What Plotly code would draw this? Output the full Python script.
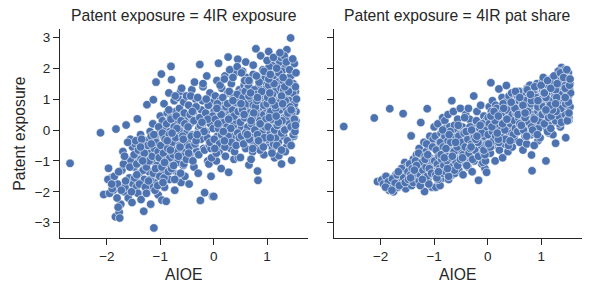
import plotly.graph_objects as go

# AIOE per occupation (shared by both panels)
aioe = [
    -2.69, -2.12, -2.06, -1.97, -1.92, -1.88, -1.84, -1.83, -1.80, -1.77,
    -1.76, -1.74, -1.72, -1.70, -1.68, -1.66, -1.64, -1.62, -1.60, -1.58,
    -1.56, -1.55, -1.53, -1.52, -1.51,
    -1.49, -1.47, -1.45, -1.43, -1.42, -1.40, -1.39, -1.37, -1.36, -1.34,
    -1.33, -1.31, -1.30, -1.28, -1.27, -1.25, -1.24, -1.22, -1.21, -1.19,
    -1.18, -1.16, -1.15, -1.13, -1.12, -1.11, -1.09, -1.08, -1.06, -1.05,
    -1.04, -1.02, -1.01, -1.00, -1.46, -1.38, -1.29, -1.20, -1.14, -1.07, -1.03,
    -0.99, -0.98, -0.97, -0.96, -0.95, -0.94, -0.93, -0.92, -0.91, -0.90,
    -0.89, -0.88, -0.87, -0.86, -0.85, -0.84, -0.83, -0.82, -0.81, -0.80,
    -0.79, -0.78, -0.77, -0.76, -0.75, -0.74, -0.73, -0.72, -0.71, -0.70,
    -0.69, -0.68, -0.67, -0.66, -0.65, -0.64, -0.63, -0.62, -0.61, -0.60,
    -0.59, -0.58, -0.57, -0.56, -0.55, -0.54, -0.53, -0.52, -0.51, -0.50,
    -0.49, -0.47, -0.46, -0.44, -0.43, -0.41, -0.40, -0.38, -0.37, -0.35,
    -0.34, -0.32, -0.31, -0.29, -0.28, -0.26, -0.25, -0.23, -0.22, -0.20,
    -0.19, -0.17, -0.16, -0.14, -0.13, -0.11, -0.10, -0.08, -0.07, -0.05,
    -0.04, -0.02, -0.01, -0.45, -0.36, -0.27, -0.18, -0.09, -0.03, -0.42,
    0.00, 0.01, 0.02, 0.03, 0.04, 0.05, 0.06, 0.07, 0.08, 0.09,
    0.10, 0.12, 0.13, 0.14, 0.15, 0.17, 0.18, 0.19, 0.20, 0.21,
    0.22, 0.24, 0.25, 0.26, 0.27, 0.28, 0.30, 0.31, 0.32, 0.33,
    0.34, 0.35, 0.36, 0.38, 0.39, 0.40, 0.41, 0.42, 0.44, 0.45,
    0.46, 0.47, 0.48, 0.49, 0.11, 0.23, 0.29, 0.37, 0.43, 0.16,
    0.50, 0.51, 0.52, 0.53, 0.54, 0.55, 0.56, 0.57, 0.58, 0.59,
    0.60, 0.61, 0.62, 0.63, 0.64, 0.65, 0.66, 0.67, 0.68, 0.69,
    0.70, 0.71, 0.72, 0.73, 0.74, 0.75, 0.76, 0.77, 0.78, 0.79,
    0.80, 0.81, 0.82, 0.83, 0.84, 0.85, 0.86, 0.87, 0.88, 0.89,
    0.90, 0.91, 0.92, 0.93, 0.94, 0.95, 0.96, 0.97, 0.98, 0.99,
    0.52, 0.57, 0.63, 0.68, 0.72, 0.77, 0.82, 0.87, 0.92, 0.97,
    1.00, 1.01, 1.02, 1.03, 1.04, 1.05, 1.06, 1.07, 1.08, 1.09,
    1.10, 1.11, 1.12, 1.13, 1.14, 1.15, 1.16, 1.17, 1.18, 1.19,
    1.20, 1.21, 1.22, 1.23, 1.24, 1.25, 1.26, 1.27, 1.28, 1.29,
    1.30, 1.31, 1.32, 1.33, 1.34, 1.35, 1.36, 1.37, 1.38, 1.39,
    1.40, 1.41, 1.42, 1.43, 1.44, 1.45, 1.46, 1.47, 1.48, 1.49,
    1.50, 1.51, 1.52, 1.53, 1.54,
    1.02, 1.06, 1.10, 1.14, 1.18, 1.22, 1.26, 1.30, 1.34, 1.38,
    1.42, 1.46, 1.50, 1.04, 1.12, 1.20, 1.28, 1.36, 1.44, 1.52,
    1.08, 1.16, 1.24, 1.32, 1.40,
    # second batch
    -1.98, -1.95, -1.90, -1.86, -1.81, -1.78, -1.73, -1.69, -1.65, -1.61,
    -1.57, -1.54, -1.91, -1.79, -1.67,
    -1.49, -1.48, -1.46, -1.44, -1.41, -1.39, -1.36, -1.35, -1.32, -1.30,
    -1.28, -1.26, -1.23, -1.21, -1.19, -1.17, -1.15, -1.13, -1.11, -1.10,
    -1.08, -1.06, -1.04, -1.03, -1.01, -1.44, -1.33, -1.26, -1.17, -1.09,
    -1.02, -1.37, -1.22, -1.12, -1.05,
    -0.99, -0.97, -0.96, -0.94, -0.93, -0.91, -0.90, -0.88, -0.86, -0.85,
    -0.83, -0.82, -0.80, -0.79, -0.77, -0.76, -0.74, -0.73, -0.71, -0.70,
    -0.68, -0.67, -0.65, -0.64, -0.62, -0.61, -0.59, -0.58, -0.56, -0.55,
    -0.53, -0.52, -0.51, -0.95, -0.87, -0.81, -0.75, -0.69, -0.63, -0.57,
    -0.92, -0.84, -0.78, -0.66, -0.54,
    -0.48, -0.46, -0.44, -0.42, -0.39, -0.37, -0.35, -0.33, -0.30, -0.28,
    -0.26, -0.24, -0.21, -0.19, -0.17, -0.15, -0.12, -0.10, -0.08, -0.06,
    -0.04, -0.02, -0.47, -0.40, -0.33, -0.25, -0.18, -0.11, -0.05, -0.43,
    -0.31, -0.22, -0.14, -0.07, -0.01,
    0.01, 0.03, 0.05, 0.07, 0.09, 0.11, 0.13, 0.15, 0.17, 0.19,
    0.21, 0.23, 0.25, 0.27, 0.29, 0.31, 0.33, 0.35, 0.37, 0.39,
    0.41, 0.43, 0.45, 0.47, 0.49, 0.02, 0.08, 0.14, 0.20, 0.26,
    0.32, 0.38, 0.44, 0.48, 0.06, 0.18, 0.28, 0.36, 0.42, 0.46,
    0.50, 0.52, 0.53, 0.55, 0.56, 0.58, 0.59, 0.61, 0.62, 0.64,
    0.65, 0.67, 0.68, 0.70, 0.71, 0.73, 0.74, 0.76, 0.77, 0.79,
    0.80, 0.82, 0.83, 0.85, 0.86, 0.88, 0.89, 0.91, 0.92, 0.94,
    0.95, 0.97, 0.98, 0.99, 0.54, 0.60, 0.66, 0.72, 0.78, 0.84,
    0.90, 0.96, 0.51, 0.57, 0.63, 0.69, 0.75, 0.81, 0.87, 0.93,
    0.99, 0.58, 0.70, 0.82, 0.94,
    1.00, 1.02, 1.03, 1.05, 1.06, 1.08, 1.09, 1.11, 1.12, 1.14,
    1.15, 1.17, 1.18, 1.20, 1.21, 1.23, 1.24, 1.26, 1.27, 1.29,
    1.30, 1.32, 1.33, 1.35, 1.36, 1.38, 1.39, 1.41, 1.42, 1.44,
    1.45, 1.47, 1.48, 1.50, 1.51, 1.53, 1.54, 1.01, 1.07, 1.13,
    1.19, 1.25, 1.31, 1.37, 1.43, 1.49, 1.55, 1.04, 1.10, 1.16,
    1.22, 1.28, 1.34, 1.40, 1.46, 1.52, 1.03, 1.15, 1.27, 1.39,
    1.51, 1.09, 1.21, 1.33, 1.45, 1.05, 1.17, 1.29, 1.41, 1.53,
    # third batch
    0.30, 0.36, 0.44, 0.52, 0.60, 0.66, 0.74, 0.80, 0.88, 0.94,
    1.00, 1.06, 1.12, 1.18, 1.24, 1.30, 1.36, 1.42, 1.48, 1.54,
    -0.20, -0.30, -0.60, -0.72, 0.12, 0.20, 1.09, 1.27, 1.45, 0.70,
]

# Panel 1: "4IR exposure"
exposure_4ir = [
    -1.08, -0.09, -2.09, -1.24, -1.55, -1.95, -2.81, 0.03, -1.75, -2.66,
    -2.85, -2.40, -1.30, -0.70, -2.00, -1.85, 0.16, -0.95, -2.20, -1.55,
    -0.30, -1.00, -2.35, -0.55, -1.75,
    -1.20, -0.45, -1.85, 0.36, -2.05, -0.90, -1.40, -0.15, -2.25, -1.05,
    -0.60, -2.63, -1.60, -0.35, -1.15, 0.82, -1.90, -0.75, -1.35, -0.05,
    -2.40, -1.00, -0.50, 0.98, -3.17, -1.70, -0.25, 1.55, -1.45, -0.80,
    -2.10, -0.10, -1.25, 0.45, -1.55, -0.70, -0.95, -1.80, 0.20, -0.55, -1.35,
    -0.95, 1.81, -2.27, 0.30, -1.40, -0.20, 0.85, -1.85, -0.60, 0.10,
    -2.31, -0.85, 0.55, -1.10, -0.30, 1.20, -1.60, -0.05, 0.40, 2.06,
    1.63, -0.70, -1.30, 0.15, -0.45, 0.95, -1.95, -0.15, 0.60, -1.00,
    0.25, -0.55, 1.05, -1.45, -0.25, 0.70, -0.80, 1.25, -1.70, 0.05,
    -0.35, 0.50, -1.15, 0.90, -0.65, -1.50, 0.30, -0.10, 1.10, -0.90,
    -0.40, 0.80, -1.75, 0.20, -0.90, 1.30, -0.15, 0.55, -1.20, -0.50,
    1.00, -0.70, 0.35, -1.40, 0.05, 2.12, -2.28, 0.65, -0.25, 1.40,
    -0.60, -2.03, 0.95, -0.05, 1.75, -1.00, 0.40, -0.35, 1.20, -1.50,
    0.15, -2.15, 0.70, -0.80, 1.55, -0.30, 0.25, -1.10, 0.90, 0.45,
    -2.15, 0.60, -0.40, 1.10, 0.20, -1.00, 1.60, -0.20, 0.45, 2.16,
    -0.70, 0.95, 0.05, -1.25, 1.35, -0.50, 0.30, 0.80, -0.10, 1.75,
    -0.85, 0.55, -0.30, 1.20, 2.36, -1.37, 0.15, 0.70, -0.60, 1.50,
    0.35, -0.20, 1.00, -0.95, 0.50, 1.85, 0.00, 0.85, -0.45, 2.29,
    -0.89, 0.25, 1.30, -0.15, 0.40, -0.05, 0.65, 1.15, 0.10, -0.35,
    -0.89, 1.20, 0.30, -0.40, 1.90, 0.65, -0.10, 1.45, 0.05, 0.90,
    -0.60, 1.70, 0.40, -0.25, 1.05, 0.75, -1.13, 1.55, 0.15, 0.50,
    -0.35, 1.30, 0.95, -0.70, 1.80, 0.20, 0.60, -0.15, 1.10, 2.63,
    0.35, -0.50, -1.33, -1.63, 1.40, 0.80, 0.00, 1.65, -0.30, 0.45,
    1.00, -0.05, 1.95, 0.70, -0.80, 0.25, 1.25, 0.55, -0.45, 1.50,
    0.10, 0.85, 1.35, -0.20, 0.60, 1.15, 0.30, -0.65, 0.90, 1.70,
    0.50, 1.95, -0.30, 2.54, 0.80, 1.30, -0.10, 0.20, 1.60, 0.95,
    -0.60, 2.10, 0.40, 1.15, -0.90, 0.65, 1.85, 0.05, 2.30, 0.30,
    1.45, -0.40, -0.83, 1.00, 2.20, 0.15, 1.70, -1.10, 0.55, 2.45,
    1.20, -0.20, 0.85, 2.00, 0.35, 1.55, -0.55, 2.60, 0.10, 1.35,
    0.70, 2.25, -0.35, 1.10, 2.98, 0.45, -0.98, 1.80, 0.25, 1.50,
    0.90, 2.15, 0.00, 1.25, 0.60,
    1.40, 0.30, 1.75, -0.15, 0.95, 0.40, 2.35, 1.05, -0.70, 1.60,
    0.20, 1.30, 0.75, 2.05, -0.45, 0.80, 1.90, 0.50, 1.15, 0.35,
    1.65, -0.25, 0.95, 2.40, 0.55,
    # second batch
    -1.60, -2.05, -1.90, -1.50, -2.20, -1.35, -1.95, -1.10, -1.65, -0.40,
    -1.20, -2.00, -1.75, -2.50, -0.85,
    -0.80, -1.55, -0.35, -1.10, -0.65, -1.75, -0.95, -0.30, -1.30, -0.75,
    -1.85, -1.20, -0.50, -1.00, -1.60, -0.20, -0.85, -1.40, -0.60, -1.95,
    -0.40, -1.15, -0.70, 0.10, -1.50, -1.45, -1.00, -2.05, -0.45, -1.25,
    -0.90, -0.55, -1.65, -0.15, -1.80,
    -0.50, -1.20, -0.10, -0.75, -1.55, -0.30, -1.00, 0.20, -0.60, -1.35,
    -0.15, -0.90, 0.35, -1.25, -0.40, -0.80, 0.10, -1.60, -0.25, 0.45,
    -0.70, -1.05, 0.00, -0.50, -1.40, 0.30, -0.85, -0.20, -1.10, 0.55,
    -0.45, 0.15, -0.95, -1.70, -0.35, -0.65, -1.15, 0.05, -0.55, -0.30,
    -1.05, 0.65, -0.10, -0.85, 0.20,
    0.10, -0.55, 0.50, -0.20, -1.00, 0.30, -0.45, 0.75, -0.10, -0.80,
    0.40, -0.30, 0.95, 0.00, -0.65, 0.55, -0.25, 0.80, -0.50, 0.20,
    -0.90, 0.45, -0.75, 0.60, -0.35, 0.15, -0.05, 0.35, -0.60, 1.10,
    -0.15, 0.25, 1.00, -0.40, 0.05,
    -0.30, 0.35, -0.75, 0.85, 0.05, -0.45, 0.60, -0.15, 1.05, 0.25,
    -0.55, 0.75, 0.10, -0.20, 1.25, 0.40, -0.40, 0.65, 0.15, -0.70,
    0.90, 0.30, -0.10, 0.55, 1.00, -0.60, 0.20, 0.50, -0.35, 0.85,
    0.05, 0.45, 1.15, -0.25, 0.70, -0.05, 0.35, 0.95, -0.50, 0.60,
    0.25, -0.20, 0.70, 1.05, -0.45, 0.40, 1.25, -0.05, 0.85, 0.10,
    1.45, -0.30, 0.55, 1.00, 0.20, -0.60, 0.80, 1.30, 0.00, 0.60,
    1.15, -0.15, 0.45, 1.55, 0.30, -0.40, 0.95, 0.15, 1.20, 0.50,
    -0.25, 0.90, 0.35, 1.35, 0.65, -0.10, 1.10, 0.40, 0.75, -0.35,
    1.25, 0.10, 0.85, 0.50, -0.15, 1.20, 0.55, 0.95, 0.20, -0.55,
    0.70, 1.60, 0.30, 1.05, 0.80,
    0.85, 0.10, 1.45, 0.55, -0.25, 1.10, 0.35, 1.70, 0.75, 0.00,
    1.25, 0.50, -0.50, 0.90, 1.55, 0.20, 0.65, 1.35, -0.10, 0.80,
    1.60, 0.40, 0.00, 1.15, 0.70, -0.35, 1.45, 0.25, 0.95, 1.75,
    0.10, 0.60, 1.20, -0.20, 0.85, 1.40, 0.30, 1.05, 0.60, 1.50,
    0.15, 0.90, 1.30, 0.45, 0.75, -0.15, 1.00, 0.40, 1.15, 0.70,
    1.85, 0.30, 0.95, 1.25, 0.50, -0.05, 1.65, 0.80, 1.10, 0.55,
    0.35, 0.95, 0.25, 1.40, 0.65, 1.20, 0.45, 0.85, 1.55, 0.15,
    # third batch
    1.95, 1.70, 2.05, 1.85, 2.20, 1.60, 2.10, 1.75, 2.40, 1.90,
    2.25, 1.80, 2.35, 2.00, 2.50, 1.70, 2.20, 1.95, 2.30, 1.85,
    1.50, 1.05, 1.35, 1.10, 1.45, 1.65, -0.75, -0.65, -0.50, -0.95,
]

# Panel 2: "4IR pat share"
pat_share = [
    0.11, 0.39, -1.67, -1.60, -1.72, -1.55, -1.95, 0.69, -1.80, -1.70,
    -2.00, -1.55, -1.45, -1.65, -1.85, -1.50, -1.75, -1.30, -1.62, 0.53,
    -1.40, -1.05, -1.90, -1.20, -1.60,
    -1.55, -1.20, -1.70, -0.19, -1.80, -1.35, -0.95, -1.10, -1.65, -1.45,
    -0.80, -1.50, -1.25, -0.60, -1.00, 0.24, -1.75, -1.30, -0.85, -0.40,
    -1.99, -1.15, -0.70, 0.69, -1.60, -1.40, -0.50, -0.20, -1.30, -0.95,
    -1.85, -0.30, -1.05, 0.10, -1.50, -1.10, -0.75, -1.60, -0.45, -0.90, -1.25,
    -1.30, -0.20, -1.85, -0.55, -1.50, -0.90, 0.20, -1.65, -1.05, -0.40,
    -1.80, -1.20, -0.10, -1.40, -0.75, 0.40, -1.55, -0.60, -0.25, 0.30,
    0.05, -1.00, -1.35, -0.50, -0.80, 0.50, -1.60, -0.70, 0.10, -1.15,
    -0.30, -0.95, 0.95, -1.45, -0.65, 0.60, -1.10, 0.15, -1.40, -0.35,
    -0.85, -0.05, -1.25, 0.35, -0.55, -1.30, -0.15, -0.60, 0.70, -0.95,
    -0.70, 0.10, -1.45, -0.35, -1.05, 0.50, -0.55, -0.10, -1.20, -0.80,
    0.35, -0.95, -0.25, -1.35, -0.45, 1.10, -1.00, 0.15, -0.60, 0.60,
    -0.85, -1.63, 0.25, -0.40, 0.80, -1.10, -0.15, -0.70, 0.45, -1.25,
    -0.30, -1.37, 0.05, -0.90, 0.70, -0.50, -0.20, -1.05, 0.30, -0.05,
    -0.60, 0.40, -0.20, 0.75, 0.05, -0.75, 1.53, -0.35, 0.20, 0.95,
    -0.50, 0.55, -0.10, -1.00, 0.80, -0.40, 0.10, 0.45, -0.25, 1.33,
    -0.65, 0.30, -0.15, 0.65, 1.05, -0.90, 0.00, 0.50, -0.45, 0.90,
    0.20, 1.44, 0.60, -0.70, 0.35, 1.10, -0.10, 0.70, -0.30, 1.20,
    -0.55, 0.15, 0.85, -0.05, 0.25, -0.20, 0.40, 0.75, 0.10, -0.30,
    -0.30, 0.90, 0.40, -0.10, 1.15, 0.55, 0.10, 1.05, 0.25, 0.70,
    -0.40, 1.25, 0.45, 0.00, 0.85, 0.60, -0.65, 1.10, 0.30, 0.50,
    -0.20, 1.00, 0.75, -0.45, 1.35, 0.35, 0.55, 0.05, 0.95, 1.45,
    0.40, -0.15, -0.81, -1.32, 1.20, 0.65, 0.15, 1.30, -0.05, 0.50,
    0.90, 0.20, 1.50, 0.70, -0.35, 0.30, 1.05, 0.60, -0.25, 1.25,
    0.35, 0.80, 1.10, 0.00, 0.65, 1.00, 0.45, -0.50, 0.85, 1.40,
    0.60, 1.45, 0.20, 1.60, 0.85, 1.10, 0.35, 0.50, 1.30, -1.00,
    0.05, 1.55, 0.70, 1.05, -0.10, 0.80, 1.40, 0.45, 1.65, 0.60,
    1.20, 0.25, -0.15, 0.95, 1.50, 0.40, 1.35, -0.43, 0.75, 1.70,
    1.15, 0.30, 0.90, 1.60, 0.55, 1.25, 0.10, 1.80, 2.02, 1.45,
    0.85, 1.75, 0.35, 1.10, 1.95, 0.65, -0.25, 1.55, 0.80, 1.40,
    1.00, 1.85, 0.32, 1.30, 1.50,
    1.20, 0.70, 1.40, 0.15, 0.95, 0.50, 1.65, 1.05, 0.20, 1.35,
    0.60, 1.25, 0.85, 1.70, -0.05, 0.90, 1.50, 0.75, 1.15, 0.40,
    1.30, 0.55, 1.00, 1.90, 1.60,
    # second batch
    -1.62, -1.75, -1.50, -1.68, -1.90, -1.58, -1.72, -1.45, -1.80, -1.25,
    -1.55, -1.70, -1.85, -1.95, -1.35,
    -1.35, -1.60, -1.10, -1.45, -1.25, -1.70, -1.50, -1.00, -1.40, -1.20,
    -1.65, -1.45, -1.05, -1.30, -1.55, -0.85, -1.20, -1.50, -1.00, -1.75,
    -0.90, -1.35, -1.10, -0.55, -1.45, -1.55, -1.15, -1.80, -0.95, -1.25,
    -1.00, -1.30, -1.60, -0.80, -1.40,
    -1.00, -1.45, -0.65, -1.10, -1.60, -0.85, -1.25, -0.40, -0.95, -1.40,
    -0.55, -1.15, -0.20, -1.35, -0.70, -1.00, -0.35, -1.50, -0.60, -0.05,
    -0.90, -1.20, -0.45, -0.75, -1.30, -0.25, -1.05, -0.50, -1.15, 0.15,
    -0.65, -0.30, -0.95, -1.55, -0.80, -0.90, -1.25, -0.40, -0.70, -0.55,
    -1.35, 0.00, -0.60, -0.85, -0.20,
    -0.40, -0.80, -0.10, -0.55, -1.15, -0.30, -0.75, 0.10, -0.45, -0.95,
    -0.15, -0.65, 0.30, -0.35, -0.85, 0.05, -0.50, 0.20, -0.70, -0.20,
    -1.00, 0.00, -0.90, -0.05, -0.60, -0.25, -0.40, -0.10, -0.80, 0.40,
    -0.55, -0.30, 0.15, -0.65, -0.45,
    -0.15, 0.20, -0.55, 0.60, -0.05, -0.35, 0.35, -0.20, 0.70, 0.10,
    -0.40, 0.50, 0.00, -0.25, 0.85, 0.25, -0.30, 0.45, 0.05, -0.50,
    0.65, 0.20, -0.10, 0.40, 0.75, -0.45, 0.10, 0.30, -0.30, 0.55,
    0.00, 0.35, 0.80, -0.15, 0.45, -0.10, 0.20, 0.65, -0.35, 0.50,
    0.30, 0.05, 0.55, 0.80, -0.05, 0.40, 0.95, 0.15, 0.70, 0.25,
    1.10, 0.00, 0.55, 0.85, 0.35, -0.20, 0.70, 1.05, 0.25, 0.60,
    0.95, 0.10, 0.50, 1.20, 0.40, -0.10, 0.85, 0.30, 1.00, 0.60,
    0.05, 0.80, 0.45, 1.10, 0.60, 0.20, 0.90, 0.45, 0.75, 0.00,
    1.05, 0.30, 0.70, 0.50, 0.15, 0.95, 0.60, 0.85, 0.35, -0.15,
    0.70, 1.25, 0.40, 0.95, 0.75,
    0.95, 0.50, 1.30, 0.75, 0.20, 1.10, 0.60, 1.45, 0.90, 0.40,
    1.20, 0.70, 0.05, 1.00, 1.50, 0.55, 0.85, 1.35, 0.30, 0.95,
    1.55, 0.65, 0.45, 1.25, 0.90, 0.25, 1.60, 0.70, 1.15, 1.85,
    0.50, 0.95, 1.40, 0.35, 1.10, 1.65, 0.75, 1.00, 0.80, 1.35,
    0.45, 1.05, 1.45, 0.70, 1.00, 0.30, 1.20, 0.75, 1.15, 0.85,
    1.55, 0.60, 1.15, 1.50, 0.85, 0.55, 1.25, 0.95, 1.30, 1.70,
    0.90, 1.05, 0.65, 1.60, 1.35, 1.20, 0.80, 1.05, 1.75, 1.45,
    # third batch
    0.70, 0.35, 0.90, 1.25, 1.05, 0.80, 1.30, 1.15, 1.40, 0.95,
    1.45, 1.20, 1.60, 1.35, 1.75, 1.50, 1.85, 1.70, 1.95, 1.65,
    -0.20, 0.00, -0.40, -0.15, 0.60, 0.45, 0.65, 0.85, 1.05, 0.55,
]

panel_titles = ["Patent exposure = 4IR exposure", "Patent exposure = 4IR pat share"]
x_ticks = [-2, -1, 0, 1]
y_ticks = [-3, -2, -1, 0, 1, 2, 3]

n = min(len(aioe), len(exposure_4ir), len(pat_share))
COLOR = "#4C72B0"
FONT = "Liberation Sans, Arial, sans-serif"
INK = "#262626"

marker = dict(color=COLOR, size=8.5, line=dict(color="white", width=0.6))

fig = go.Figure()
fig.add_trace(go.Scatter(x=aioe[:n], y=exposure_4ir[:n], mode="markers",
                         marker=marker, xaxis="x", yaxis="y", showlegend=False))
fig.add_trace(go.Scatter(x=aioe[:n], y=pat_share[:n], mode="markers",
                         marker=marker, xaxis="x2", yaxis="y2", showlegend=False))

# page body adds an 8px margin; the figure is sized so the page is 601x293
OFF = 8
W, H = 601 - OFF, 293 - OFF
left_dom = [(59.9 - OFF) / W, (307.7 - OFF) / W]
right_dom = [(333.6 - OFF) / W, (581.8 - OFF) / W]
y_dom = [(H - (237.8 - OFF)) / H, (H - (29.3 - OFF)) / H]

axis_common = dict(
    showgrid=False, zeroline=False, showline=True, linecolor=INK, linewidth=1.1,
    ticks="outside", ticklen=6, tickwidth=1.1, tickcolor=INK,
    tickfont=dict(family=FONT, size=13.5, color=INK),
)
title_font = dict(family=FONT, size=15.7, color=INK)

fig.update_layout(
    width=W, height=H,
    margin=dict(l=0, r=0, t=0, b=0),
    paper_bgcolor="white", plot_bgcolor="white",
    xaxis=dict(domain=left_dom, range=[-2.88, 1.76], tickvals=x_ticks, anchor="y",
               title=dict(text="AIOE", font=title_font, standoff=5),
               **axis_common),
    xaxis2=dict(domain=right_dom, range=[-2.88, 1.76], tickvals=x_ticks, anchor="y2",
                title=dict(text="AIOE", font=title_font, standoff=5),
                **axis_common),
    yaxis=dict(domain=y_dom, range=[-3.49, 3.26], tickvals=y_ticks, anchor="x",
               title=dict(text="Patent exposure", font=title_font, standoff=5),
               **axis_common),
    yaxis2=dict(domain=y_dom, range=[-3.49, 3.26], tickvals=y_ticks, anchor="x2",
                showticklabels=False, **axis_common),
    annotations=[
        dict(text=panel_titles[0], x=(left_dom[0] + left_dom[1]) / 2, y=(H - (15.5 - OFF)) / H,
             xref="paper", yref="paper", showarrow=False, xanchor="center", yanchor="middle",
             font=title_font),
        dict(text=panel_titles[1], x=(right_dom[0] + right_dom[1]) / 2, y=(H - (15.5 - OFF)) / H,
             xref="paper", yref="paper", showarrow=False, xanchor="center", yanchor="middle",
             font=title_font),
    ],
)

fig.write_html("out.html")
